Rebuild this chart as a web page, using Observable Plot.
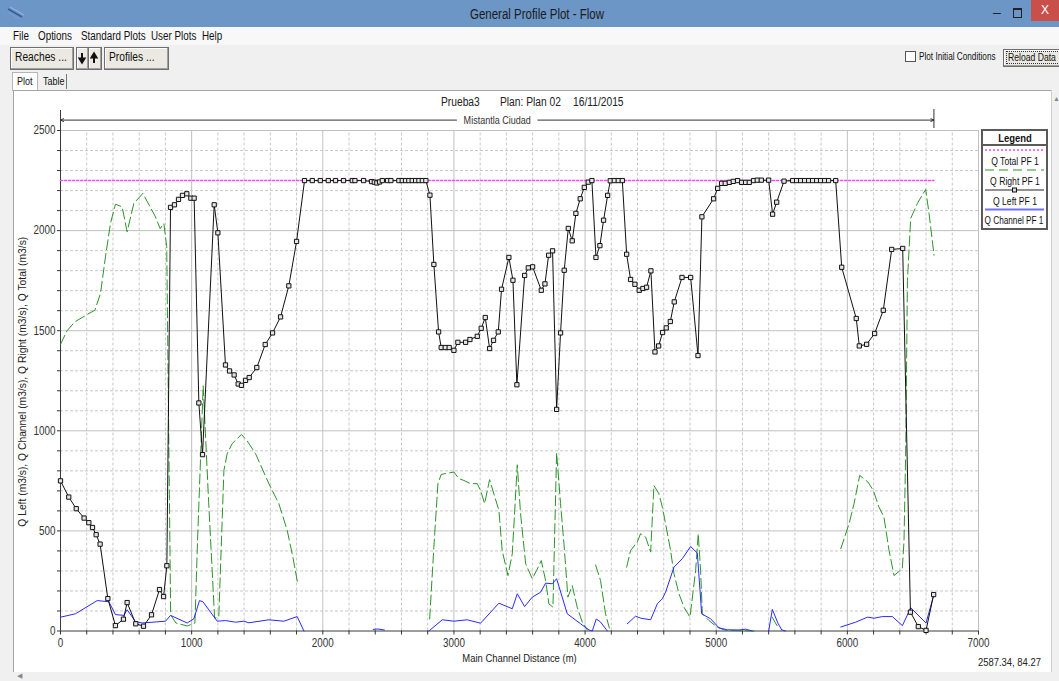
<!DOCTYPE html>
<html><head><meta charset="utf-8">
<script src="https://cdn.jsdelivr.net/npm/d3@7"></script>
<script src="https://cdn.jsdelivr.net/npm/@observablehq/plot@0.6"></script>
<style>
html,body{margin:0;padding:0;}
body{width:1059px;height:681px;position:relative;overflow:hidden;background:#f0f0f0;
 font-family:"Liberation Sans",Arial,sans-serif;color:#111;}
.abs{position:absolute;}
.sq{position:absolute;white-space:pre;transform:scaleX(0.82);transform-origin:0 0;}
.sqc{position:absolute;white-space:pre;transform:translateX(-50%) scaleX(0.82);text-align:center;}
.btn{position:absolute;background:#ebe9e1;border:1px solid #6f6f6f;box-shadow:inset -1px -1px 0 #a0a0a0, inset 1px 1px 0 #fff;}
#chart svg{max-width:none !important;background:transparent !important;}
</style></head><body>
<div class="abs" style="left:0;top:0;width:1059px;height:27px;background:#6b96c5;"></div>
<svg class="abs" style="left:6px;top:6px" width="20" height="14"><line x1="2" y1="3" x2="16" y2="11" stroke="#3a5a9a" stroke-width="1.5"/><line x1="2" y1="6" x2="14" y2="13" stroke="#7f9fd0" stroke-width="1"/><line x1="4" y1="1" x2="18" y2="9" stroke="#a0b8e0" stroke-width="1"/></svg>
<div class="sqc" style="left:537px;top:6px;font-size:14px;color:#1b1b1b;">General Profile Plot - Flow</div>
<div class="abs" style="left:993px;top:4px;font-size:14px;color:#222;">–</div>
<div class="abs" style="left:1013px;top:8px;width:7px;height:7px;border:1px solid #222;border-top-width:2px;"></div>
<div class="abs" style="left:1031px;top:0;width:28px;height:21px;background:#c9504a;color:#fff;font-size:12px;text-align:center;line-height:21px;">X</div>
<div class="abs" style="left:0;top:27px;width:1059px;height:18px;background:#f8f8f8;"></div>
<div class="sq" style="left:13px;top:29px;font-size:12px;">File</div>
<div class="sq" style="left:38px;top:29px;font-size:12px;">Options</div>
<div class="sq" style="left:81px;top:29px;font-size:12px;">Standard Plots</div>
<div class="sq" style="left:151px;top:29px;font-size:12px;">User Plots</div>
<div class="sq" style="left:202px;top:29px;font-size:12px;">Help</div>
<div class="btn" style="left:10px;top:47px;width:62px;height:21px;"></div>
<div class="sq" style="left:15px;top:50px;font-size:12.5px;">Reaches ...</div>
<div class="btn" style="left:76px;top:47px;width:11px;height:21px;"></div>
<div class="btn" style="left:88px;top:47px;width:12px;height:21px;"></div>
<svg class="abs" style="left:76px;top:47px" width="26" height="22"><path d="M6 6v8M3.5 11.5l2.5 4 2.5-4z" stroke="#111" stroke-width="2" fill="#111"/><path d="M18 16V8M15.5 10.5l2.5-4 2.5 4z" stroke="#111" stroke-width="2" fill="#111"/></svg>
<div class="btn" style="left:104px;top:47px;width:63px;height:21px;"></div>
<div class="sq" style="left:109px;top:50px;font-size:12.5px;">Profiles ...</div>
<div class="abs" style="left:905px;top:51px;width:9px;height:9px;border:1px solid #555;background:#fff;"></div>
<div class="sq" style="left:919px;top:51px;font-size:10px;">Plot Initial Conditions</div>
<div class="btn" style="left:1003px;top:49px;width:60px;height:16px;"></div>
<div class="abs" style="left:1006px;top:51px;width:60px;height:11px;border:1px dotted #333;"></div>
<div class="sq" style="left:1008px;top:51px;font-size:10.5px;">Reload Data</div>
<div class="abs" style="left:12px;top:72px;width:24px;height:18px;background:#fff;border:1px solid #b5b5b5;border-bottom:none;"></div>
<div class="sq" style="left:17px;top:75px;font-size:11px;">Plot</div>
<div class="abs" style="left:38px;top:74px;width:28px;height:15px;border-right:1px solid #777;"></div>
<div class="sq" style="left:43px;top:75px;font-size:11px;">Table</div>
<div class="abs" style="left:13px;top:90px;width:1037px;height:581px;background:#fff;border:1px solid #a5a5a5;"></div>
<div class="abs" style="left:1051px;top:90px;width:8px;height:591px;background:#f0f0f0;border-left:1px solid #d0d0d0;"></div>
<div class="abs" style="left:1053px;top:95px;font-size:7px;color:#888;">&#9650;</div>
<div class="abs" style="left:0;top:672px;width:1059px;height:9px;background:#f0f0f0;"></div>
<div class="abs" style="left:17px;top:672px;font-size:7px;color:#888;">&#9664;</div>
<div class="sq" style="left:441px;top:95px;font-size:12.5px;color:#222;">Prueba3</div>
<div class="sq" style="left:500px;top:95px;font-size:12.5px;color:#222;">Plan: Plan 02</div>
<div class="sq" style="left:573px;top:95px;font-size:12.5px;color:#222;">16/11/2015</div>
<div id="chart" class="abs" style="left:0;top:0;width:1059px;height:681px;"></div>
<div class="abs" style="left:981px;top:129px;width:63px;height:97px;border:2px solid #5a5a5a;background:#fff;">
  <div class="sqc" style="left:32px;top:1px;font-weight:bold;font-size:11.5px;">Legend</div>
  <div class="abs" style="left:0;top:13px;width:63px;height:0;border-top:2px solid #5a5a5a;"></div>
  <svg class="abs" style="left:0;top:16px" width="63" height="82">
    <line x1="2" y1="3" x2="61" y2="3" stroke="#ff44ff" stroke-width="1.5" stroke-dasharray="2,2"/>
    <line x1="2" y1="23" x2="61" y2="23" stroke="#2a942a" stroke-width="1.2" stroke-dasharray="9,5"/>
    <line x1="2" y1="43" x2="61" y2="43" stroke="#222" stroke-width="1"/>
    <rect x="29.5" y="41" width="4" height="4" fill="#ddd" stroke="#111" stroke-width="1"/>
    <line x1="2" y1="62.5" x2="61" y2="62.5" stroke="#7070ff" stroke-width="2"/>
  </svg>
  <div class="sqc" style="left:32px;top:24px;font-size:10.5px;">Q Total PF 1</div>
  <div class="sqc" style="left:32px;top:44px;font-size:10.5px;">Q Right PF 1</div>
  <div class="sqc" style="left:32px;top:64px;font-size:10.5px;">Q Left PF 1</div>
  <div class="sqc" style="left:31px;top:84px;font-size:10px;">Q Channel PF 1</div>
</div>
<div class="sq" style="left:978px;top:656px;font-size:11.5px;color:#222;">2587.34, 84.27</div>
<pre id="err" class="abs" style="left:100px;top:300px;color:red;font-size:12px;z-index:10;"></pre>
<script>
// ---------- data (Main Channel Distance m, discharge m3/s) ----------
const xTicks = [0,200,400,600,800,1000,1200,1400,1600,1800,2000,2200,2400,2600,2800,3000,3200,3400,3600,3800,4000,4200,4400,4600,4800,5000,5200,5400,5600,5800,6000,6200,6400,6600,6800,7000];
const xLabels = [0,1000,2000,3000,4000,5000,6000,7000];
const yTicks = [0,100,200,300,400,500,600,700,800,900,1000,1100,1200,1300,1400,1500,1600,1700,1800,1900,2000,2100,2200,2300,2400,2500];
const yLabels = [0,500,1000,1500,2000,2500];

const reachName = "Mistantla Ciudad";
const reachStart = 0, reachEnd = 6660;

const qTotal = [[0,2250],[6660,2250]];

const qLeft = [[0,750],[63,669],[120,611],[180,564],[216,541],[244,517],[272,481],[302,434],[361,162],[419,27],[480,59],[508,142],[574,36],[633,24],[694,81],[755,207],[786,172],[811,326],[839,2116],[869,2129],[900,2156],[930,2176],[963,2184],[994,2162],[1019,2162],[1055,1139],[1083,881],[1172,2129],[1200,1989],[1258,1329],[1289,1299],[1324,1279],[1355,1234],[1380,1227],[1411,1252],[1439,1266],[1497,1316],[1561,1431],[1617,1489],[1678,1569],[1741,1724],[1800,1946],[1861,2250],[1920,2250],[1981,2250],[2042,2250],[2097,2250],[2158,2250],[2225,2250],[2245,2250],[2311,2250],[2372,2245],[2393,2242],[2412,2238],[2433,2243],[2454,2250],[2494,2250],[2519,2250],[2580,2250],[2606,2250],[2631,2250],[2656,2250],[2682,2250],[2708,2250],[2733,2250],[2759,2250],[2786,2250],[2817,2177],[2847,1831],[2883,1494],[2903,1416],[2934,1416],[2964,1416],[3000,1402],[3030,1442],[3089,1442],[3122,1456],[3178,1472],[3208,1512],[3239,1566],[3272,1411],[3302,1452],[3338,1494],[3363,1707],[3419,1866],[3450,1752],[3480,1230],[3539,1776],[3567,1814],[3600,1819],[3666,1702],[3694,1734],[3722,1877],[3752,1899],[3783,1107],[3813,1489],[3841,1802],[3872,2011],[3902,1949],[3930,2086],[3963,2159],[3994,2216],[4024,2242],[4052,2250],[4083,1866],[4113,1925],[4141,2052],[4172,2176],[4192,2249],[4223,2250],[4253,2250],[4284,2250],[4317,1882],[4347,1756],[4380,1732],[4413,1702],[4441,1711],[4469,1717],[4502,1799],[4533,1394],[4561,1424],[4591,1491],[4619,1514],[4650,1546],[4680,1644],[4739,1766],[4805,1766],[4861,1376],[4891,2069],[4980,2159],[5011,2211],[5041,2236],[5069,2236],[5100,2241],[5130,2246],[5163,2250],[5194,2241],[5224,2241],[5252,2241],[5285,2250],[5313,2252],[5344,2252],[5400,2252],[5430,2082],[5461,2142],[5517,2247],[5583,2250],[5613,2250],[5644,2250],[5674,2250],[5705,2250],[5735,2250],[5766,2250],[5796,2250],[5827,2250],[5857,2250],[5911,2250],[5957,1817],[6068,1561],[6091,1424],[6147,1432],[6208,1486],[6274,1602],[6338,1906],[6422,1911],[6481,94],[6541,22],[6600,3],[6658,182]];

const qRight = [[0,1432],[50,1500],[109,1544],[206,1582],[262,1602],[305,1686],[343,1869],[381,2036],[419,2132],[470,2119],[508,1994],[559,2136],[628,2186],[724,2069],[760,2010],[788,2036],[810,1920],[840,80],[880,40],[966,25],[1025,40],[1045,450],[1088,1225],[1130,640],[1175,65],[1207,70],[1246,802],[1271,886],[1309,936],[1380,982],[1424,949],[1487,886],[1589,736],[1665,636],[1729,502],[1772,369],[1808,240],
 [1830,null],
 [2815,60],[2847,419],[2878,736],[2903,782],[2934,786],[3000,794],[3038,761],[3076,752],[3127,736],[3178,736],[3203,702],[3234,636],[3272,756],[3343,602],[3368,402],[3412,277],[3445,386],[3483,830],[3508,586],[3547,336],[3597,261],[3630,302],[3666,352],[3699,252],[3724,136],[3755,119],[3783,890],[3813,636],[3839,436],[3869,169],[3902,227],[3940,119],[3979,44],[4017,5],
 [4050,null],
 [4080,330],[4118,252],[4156,86],[4185,15],
 [4250,null],
 [4317,319],[4347,402],[4398,444],[4423,486],[4462,469],[4500,394],[4525,727],[4563,686],[4589,619],[4614,536],[4652,402],[4678,286],[4716,186],[4754,119],[4800,69],[4843,302],[4863,486],[4881,302],[4894,86],[4945,52],[5008,19],[5070,3],[5290,0],
 [5350,null],
 [5425,70],[5465,25],
 [5700,null],
 [5950,411],[6013,536],[6051,636],[6094,777],[6157,744],[6198,702],[6241,619],[6279,569],[6318,402],[6356,277],[6419,311],[6432,450],[6445,900],[6458,1750],[6483,2061],[6534,2136],[6597,2206],[6623,2086],[6661,1877]];

const qChannel = [[0,69],[114,86],[280,152],[369,146],[419,82],[483,78],[508,106],[572,47],[623,40],[801,49],[839,78],[966,40],[1017,61],[1060,152],[1086,146],[1195,49],[1258,52],[1335,44],[1398,49],[1436,41],[1589,56],[1703,49],[1805,72],[1856,0],
 [1900,null],
 [2385,8],[2420,10],[2470,5],
 [2550,null],
 [2809,0],[2911,56],[3000,49],[3101,56],[3203,39],[3343,139],[3445,111],[3483,186],[3539,122],[3597,169],[3661,194],[3699,239],[3750,236],[3783,261],[3864,86],[3966,36],[4030,5],[4055,0],[4085,60],[4118,45],[4170,0],
 [4250,null],
 [4322,36],[4385,74],[4425,64],[4500,56],[4551,136],[4589,161],[4614,194],[4678,319],[4741,361],[4805,422],[4856,389],[4889,86],[4957,61],[5021,16],[5085,6],[5174,5],[5224,9],[5275,0],
 [5350,null],
 [5400,0],[5428,108],[5470,40],[5500,5],[5530,0],
 [5700,null],
 [5950,20],[6063,44],[6153,69],[6203,64],[6267,72],[6343,72],[6420,27],[6483,116],[6600,40],[6660,182]];

const xTitle = "Main Channel Distance (m)";
const yTitle = "Q Left (m3/s), Q Channel (m3/s), Q Right (m3/s), Q Total (m3/s)";

var errBox = document.getElementById("err");
try {
const xMinor = xTicks.filter(d => d % 1000 !== 0);
const yMinor = yTicks.filter(d => d % 500 !== 0);
const xMajor = xLabels.filter(d => d > 0);
const yMajor = yLabels.filter(d => d > 0);
const gx = d => d[0], gy = d => d[1];
const reachMid = (reachStart + reachEnd) / 2;
const labelGap = 310;

const chart = Plot.plot({
  width: 1059, height: 681,
  marginLeft: 60, marginRight: 81, marginTop: 110, marginBottom: 50.5,
  x: {domain: [0, 7000]},
  y: {domain: [0, 2600]},
  style: {background: "transparent", fontFamily: "'Liberation Sans',Arial,sans-serif", fontSize: "12px", color: "#333", overflow: "visible", maxWidth: "none"},
  marks: [
    Plot.ruleX(xMinor, {y1: 0, y2: 2500, stroke: "#c8c8c8", strokeDasharray: "3,2"}),
    Plot.ruleY(yMinor, {x1: 0, x2: 7000, stroke: "#c8c8c8", strokeDasharray: "3,2"}),
    Plot.ruleX(xMajor, {y1: 0, y2: 2500, stroke: "#c0c0c0"}),
    Plot.ruleY(yMajor, {x1: 0, x2: 7000, stroke: "#c0c0c0"}),
    Plot.ruleX([0], {y1: 0, y2: 2600, stroke: "#3a3a3a"}),
    Plot.ruleY([0], {x1: 0, x2: 7000, stroke: "#3a3a3a"}),
    Plot.axisY({ticks: yTicks, tickSize: 3, tickPadding: 2, tickFormat: d => yLabels.includes(d) ? String(d) : "", label: null, fontSize: 12}),
    Plot.axisX({ticks: xTicks, tickSize: 4, tickPadding: 3, tickFormat: d => xLabels.includes(d) ? String(d) : "", label: null, fontSize: 12}),
    Plot.text([xTitle], {frameAnchor: "bottom", dy: 31, fontSize: 11.5, fill: "#222"}),
    Plot.text([yTitle], {frameAnchor: "left", textAnchor: "middle", rotate: -90, dx: -38, dy: 11, fontSize: 10.3, fill: "#222"}),
    Plot.arrow([{a: reachMid - labelGap, b: reachStart}, {a: reachMid + labelGap, b: reachEnd}],
      {x1: "a", x2: "b", y1: 2552, y2: 2552, stroke: "#333", strokeWidth: 1, headLength: 5, headAngle: 50}),
    Plot.ruleX([reachEnd], {y1: 2510, y2: 2605, stroke: "#333"}),
    Plot.text([reachName], {x: reachMid, y: 2552, fontSize: 11, fill: "#333"}),
    Plot.line(qTotal, {x: gx, y: gy, stroke: "#ff44ff", strokeWidth: 1.5, strokeDasharray: "2,2"}),
    Plot.line(qRight, {x: gx, y: gy, stroke: "#2a942a", strokeWidth: 1, strokeDasharray: "10,4"}),
    Plot.line(qChannel, {x: gx, y: gy, stroke: "#2a2aff", strokeWidth: 1}),
    Plot.line(qLeft, {x: gx, y: gy, stroke: "#111", strokeWidth: 1}),
    Plot.dot(qLeft, {x: gx, y: gy, symbol: "square", r: 2.4, stroke: "#111", fill: "#e6e6e6", strokeWidth: 1})
  ]
});
chart.style.position = "absolute";
chart.style.left = "0px";
chart.style.top = "0px";
chart.style.maxWidth = "none";
chart.style.width = "1059px";
chart.style.height = "681px";
document.getElementById("chart").appendChild(chart);
chart.querySelectorAll("text").forEach(t => {
  const tr = t.getAttribute("transform") || "";
  if (tr.includes("rotate")) return;
  const len = t.getComputedTextLength();
  if (len > 0) { t.setAttribute("textLength", (len * 0.82).toFixed(2)); t.setAttribute("lengthAdjust", "spacingAndGlyphs"); }
});
} catch (e) {
  errBox.textContent = "ERROR: " + e.message + "\n" + (e.stack || "").slice(0, 400);
}
</script>
</body></html>
